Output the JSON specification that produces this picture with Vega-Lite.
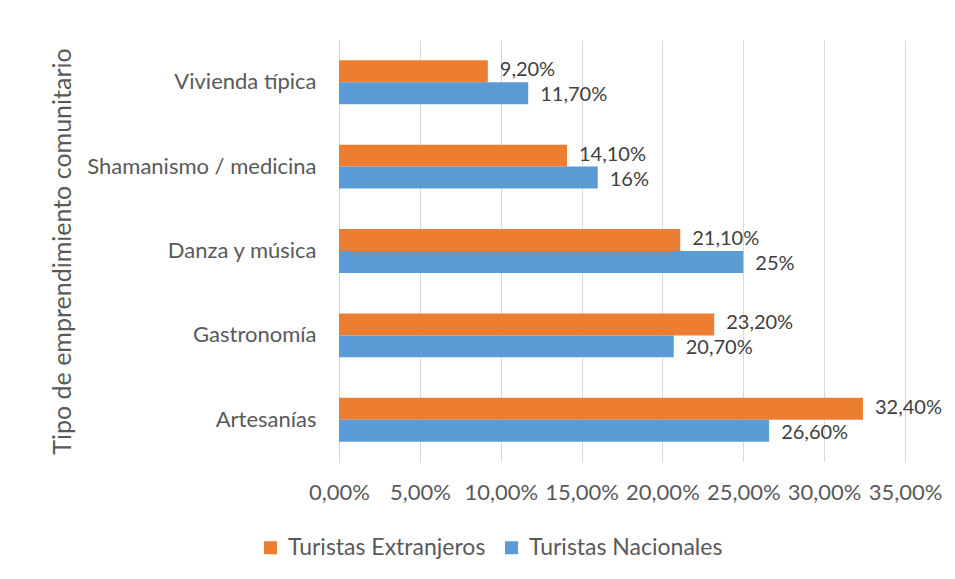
{
  "$schema": "https://vega.github.io/schema/vega-lite/v6.json",
  "autosize": {"type": "none"},
  "width": 566,
  "height": 422,
  "padding": {"left": 339, "top": 40, "right": 50, "bottom": 117},
  "background": "white",
  "config": {
    "font": "Lato",
    "view": {"stroke": null}
  },
  "data": {
    "values": [
      {"tipo": "Vivienda típica", "grupo": "Turistas Extranjeros", "valor": 9.2, "label": "9,20%"},
      {"tipo": "Vivienda típica", "grupo": "Turistas Nacionales", "valor": 11.7, "label": "11,70%"},
      {"tipo": "Shamanismo / medicina", "grupo": "Turistas Extranjeros", "valor": 14.1, "label": "14,10%"},
      {"tipo": "Shamanismo / medicina", "grupo": "Turistas Nacionales", "valor": 16, "label": "16%"},
      {"tipo": "Danza y música", "grupo": "Turistas Extranjeros", "valor": 21.1, "label": "21,10%"},
      {"tipo": "Danza y música", "grupo": "Turistas Nacionales", "valor": 25, "label": "25%"},
      {"tipo": "Gastronomía", "grupo": "Turistas Extranjeros", "valor": 23.2, "label": "23,20%"},
      {"tipo": "Gastronomía", "grupo": "Turistas Nacionales", "valor": 20.7, "label": "20,70%"},
      {"tipo": "Artesanías", "grupo": "Turistas Extranjeros", "valor": 32.4, "label": "32,40%"},
      {"tipo": "Artesanías", "grupo": "Turistas Nacionales", "valor": 26.6, "label": "26,60%"}
    ]
  },
  "encoding": {
    "y": {
      "field": "tipo",
      "type": "nominal",
      "sort": ["Vivienda típica", "Shamanismo / medicina", "Danza y música", "Gastronomía", "Artesanías"],
      "scale": {"paddingInner": 0.48, "paddingOuter": 0.24},
      "axis": {
        "title": "Tipo de emprendimiento comunitario",
        "titleFontSize": 25,
        "titleFontWeight": "normal",
        "titleColor": "#595959",
        "titleX": -277,
        "titleY": 211,
        "titleAngle": -90,
        "titleAlign": "center",
        "titleBaseline": "middle",
        "labelFontSize": 22,
        "labelColor": "#595959",
        "labelPadding": 23,
        "labelLimit": 320,
        "ticks": false,
        "domainColor": "#d9d9d9",
        "domainWidth": 1,
        "grid": false
      }
    },
    "yOffset": {
      "field": "grupo",
      "type": "nominal",
      "sort": ["Turistas Extranjeros", "Turistas Nacionales"]
    },
    "x": {
      "field": "valor",
      "type": "quantitative",
      "scale": {"domain": [0, 35], "nice": false},
      "axis": {
        "title": null,
        "values": [0, 5, 10, 15, 20, 25, 30, 35],
        "labelExpr": "replace(format(datum.value, '.2f'), '.', ',') + '%'",
        "labelFontSize": 22,
        "labelColor": "#595959",
        "labelPadding": 20,
        "labelOverlap": false,
        "labelFlush": false,
        "ticks": false,
        "domain": false,
        "grid": true,
        "gridColor": "#d9d9d9",
        "gridWidth": 1
      }
    }
  },
  "layer": [
    {
      "mark": {"type": "bar", "stroke": null},
      "encoding": {
        "color": {
          "field": "grupo",
          "type": "nominal",
          "scale": {"domain": ["Turistas Extranjeros", "Turistas Nacionales"], "range": ["#ED7D31", "#5B9BD5"]},
          "legend": {
            "title": null,
            "orient": "none",
            "direction": "horizontal",
            "legendX": -80,
            "legendY": 496,
            "symbolType": "square",
            "symbolSize": 169,
            "symbolStrokeWidth": 0,
            "labelFontSize": 23,
            "labelColor": "#595959",
            "labelOffset": 6,
            "labelLimit": 300,
            "columnPadding": 14
          }
        }
      }
    },
    {
      "transform": [{"filter": "datum.grupo === 'Turistas Extranjeros'"}],
      "mark": {"type": "text", "align": "left", "baseline": "middle", "dx": 12, "dy": -1, "fontSize": 20, "color": "#404040"},
      "encoding": {
        "text": {"field": "label", "type": "nominal"}
      }
    },
    {
      "transform": [{"filter": "datum.grupo === 'Turistas Nacionales'"}],
      "mark": {"type": "text", "align": "left", "baseline": "middle", "dx": 12, "dy": 2, "fontSize": 20, "color": "#404040"},
      "encoding": {
        "text": {"field": "label", "type": "nominal"}
      }
    }
  ]
}
